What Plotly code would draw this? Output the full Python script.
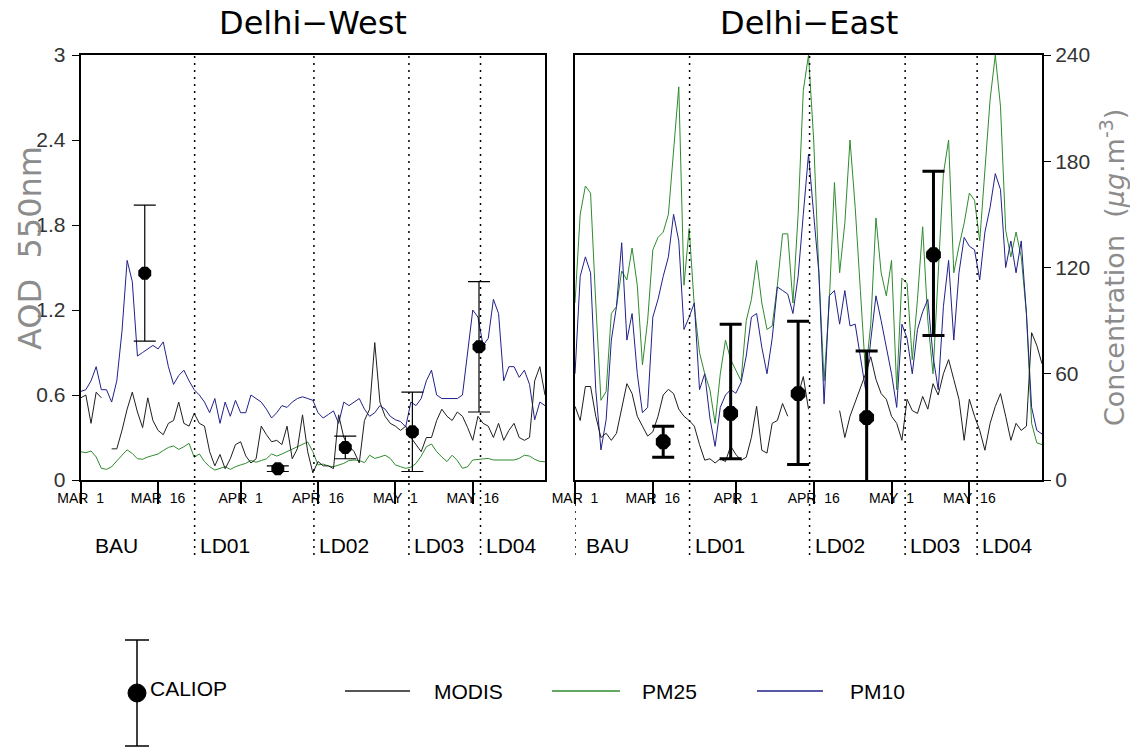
import pandas as pd
import plotly.graph_objects as go

W, H = 1130, 748

# ---------------- data ----------------
dates = pd.date_range("2020-03-01", "2020-05-30", freq="D")

# Delhi-West
west_pm10 = [50, 51, 56, 64, 51, 51, 44, 56, 84, 124,
             112, 70, 72, 74, 76, 74, 78, 64, 54, 59,
             62, 56, 51, 48, 44, 38, 46, 32, 44, 36,
             45, 38, 38, 48, 46, 44, 40, 35, 38, 42,
             41, 44, 46, 47, 46, 45, 38, 35, 37,
             39, 32, 44, 42, 44, 46, 40, 36, 38, 42,
             40, 36, 34, 33, 30, 44, 42, 46, 56, 62,
             48, 46, 46, 46, 46, 48, 72, 96, 92, 76,
             80, 102, 94, 56, 64, 64, 58, 62, 54, 34,
             44, 42]
west_pm25 = [16, 15.4, 16.4, 13, 6.6, 6, 7.5, 11, 14, 17,
             15, 12, 11.7, 13, 14, 14.7, 16.6, 18.4, 19.2, 17.3,
             18.8, 20.7, 12.8, 14.7, 10.4, 7.5, 5.6, 6.6, 7.5, 6,
             7.5, 8.5, 9.4, 11, 10, 11, 12, 14.7, 13.5, 14.7,
             16, 17.3, 18.8, 20.3, 21.5, 16, 8.5, 9, 7.9, 7.5,
             8.5, 9.4, 11, 11.3, 11, 9.8, 14, 12.2, 13, 14,
             12.2, 8.5, 7.5, 6.6, 7.2, 9.4, 13.5, 18.8, 20.3, 16,
             13, 10.4, 14, 11, 6.6, 7.5, 11.3, 11.7, 12.2, 12.2,
             11.3, 11.3, 11.7, 11.7, 11.3, 12.2, 14, 13.5, 11.7, 10.5,
             10.3]
west_modis = [0.58, 0.6, 0.4, 0.62, 0.58, None, 0.22, 0.22, 0.35, 0.5,
              0.62, 0.48, 0.37, 0.58, 0.42, 0.35, 0.32, 0.4, 0.42, 0.55,
              0.4, 0.38, 0.47, 0.4, 0.38, 0.2, 0.1, 0.18, 0.08, 0.15,
              0.25, 0.27, 0.17, 0.12, 0.15, 0.38, 0.32, 0.27, 0.28, 0.25,
              0.38, 0.15, 0.22, 0.46, 0.2, 0.05, 0.13, 0.1, 0.1,
              0.08, 0.46, 0.3, 0.24, 0.2, 0.12, 0.42, 0.5, 0.97, 0.55,
              0.45, 0.4, 0.38, 0.35, 0.38, 0.3, 0.25, 0.2, 0.3, 0.3,
              0.42, 0.5, 0.45, 0.42, 0.48, 0.45, 0.37, 0.28, 0.45, 0.4,
              0.38, 0.3, 0.4, 0.28, 0.35, 0.4, 0.3, 0.28, 0.3, 0.7,
              0.8, 0.6]
west_caliop_dates = ["2020-03-13 10:00", "2020-04-08 05:00", "2020-04-21 07:00",
                     "2020-05-04 07:00", "2020-05-17 05:00"]
west_caliop = [1.46, 0.08, 0.23, 0.34, 0.94]
west_caliop_err_up = [0.48, 0.02, 0.08, 0.28, 0.46]
west_caliop_err_dn = [0.48, 0.02, 0.08, 0.28, 0.46]

# Delhi-East
east_pm25 = [100, 150, 166, 162, 100, 45, 50, 94, 98, 118,
             113, 131, 110, 65, 90, 130, 137, 140, 150, 184,
             222, 110, 142, 98, 72, 60, 51, 32, 60, 79,
             68, 62, 56, 90, 102, 124, 100, 85, 87, 110,
             139, 139, 100, 150, 220, 240, 192, 117, 56, 100,
             168, 117, 145, 192, 154, 107, 60, 88, 148,
             117, 104, 124, 51, 114, 111, 68, 102, 143, 90,
             60, 120, 173, 192, 117, 132, 145, 162, 158, 135,
             173, 215, 240, 211, 141, 126, 140, 126, 94, 32,
             21, 20]
east_pm10 = [60, 115, 126, 117, 51, 17, 34, 79, 98, 134,
             79, 94, 60, 38, 41, 92, 102, 115, 126, 150,
             135, 85, 92, 100, 51, 60, 35, 19, 41, 48,
             51, 49, 55, 70, 92, 94, 75, 60, 80, 109,
             107, 105, 94, 115, 150, 184, 150, 117, 43, 104,
             107, 88, 107, 87, 88, 70, 51, 79, 104,
             90, 75, 60, 41, 88, 80, 60, 85, 95, 102,
             70, 51, 98, 124, 79, 117, 137, 132, 130, 113,
             140, 154, 173, 164, 120, 135, 117, 135, 94, 41,
             28, 26]
east_modis = [0.52, 0.42, 0.66, 0.66, 0.45, 0.3, 0.33, 0.28, 0.33, 0.5,
              0.68, 0.61, 0.45, 0.38, 0.31, 0.34, 0.45, 0.6, 0.64, 0.61,
              0.5, 0.45, 0.42, 0.38, 0.25, 0.14, 0.15, 0.12, 0.15, 0.13,
              0.24, 0.18, 0.14, 0.16, 0.3, 0.52, 0.21, 0.19, 0.4, 0.42,
              0.54, 0.45, None, 0.6, 0.73, 0.5, None, None, None, None,
              None, 0.49, 0.3, 0.45, 0.55, 0.64, 0.75, 0.87, 0.71,
              0.61, 0.57, 0.45, 0.4, 0.28, 0.57, 0.49, 0.47, 0.59, 0.5,
              0.68, 0.6, 0.75, 0.85, 0.71, 0.57, 0.28, 0.57, 0.45, 0.35,
              0.21, 0.4, 0.52, 0.61, 0.45, 0.28, 0.4, 0.35, 0.38, 1.04,
              0.95, 0.82]
east_caliop_dates = ["2020-03-18 00:00", "2020-03-31 00:00", "2020-04-13 00:00",
                     "2020-04-26 05:00", "2020-05-09 02:00"]
east_caliop = [0.27, 0.47, 0.61, 0.44, 1.59]
east_caliop_err_up = [0.11, 0.63, 0.51, 0.47, 0.59]
east_caliop_err_dn = [0.11, 0.32, 0.50, 0.47, 0.57]

# axes / labels
tick_dates = ["2020-03-01", "2020-03-16", "2020-04-01", "2020-04-16", "2020-05-01", "2020-05-16"]
tick_text = ["MAR\u00a0\u00a01", "MAR\u00a0\u00a016", "APR\u00a0\u00a01",
             "APR\u00a0\u00a016", "MAY\u00a0\u00a01", "MAY\u00a0\u00a016"]
aod_ticks = [0, 0.6, 1.2, 1.8, 2.4, 3]
aod_labels = ["0", "0.6", "1.2", "1.8", "2.4", "3"]
conc_ticks = [0, 60, 120, 180, 240]
phase_dates = ["2020-03-23 02:00", "2020-04-15 05:00", "2020-05-03 15:00", "2020-05-17 12:00"]
phase_names = ["LD01", "LD02", "LD03", "LD04"]

# ---------------- styles ----------------
C_MODIS = "#1e1e1e"
C_PM25 = "#2e8b2e"
C_PM10 = "#20208a"
SANS = "Liberation Sans, Arial"


def px(x):
    return x / W


def py(y):
    return (H - y) / H


XL = (80.7, 545.0)
XR = (575.0, 1042.0)
YB, YT = 480.0, 55.0
ydom = [py(YB), py(YT)]

fig = go.Figure()

# ---- West panel: PM on hidden base axis y, AOD on overlay y2
fig.add_trace(go.Scatter(x=dates, y=west_pm25, mode="lines", line=dict(color=C_PM25, width=1),
                         xaxis="x", yaxis="y", showlegend=False))
fig.add_trace(go.Scatter(x=dates, y=west_pm10, mode="lines", line=dict(color=C_PM10, width=1),
                         xaxis="x", yaxis="y", showlegend=False))
fig.add_trace(go.Scatter(x=dates, y=west_modis, mode="lines", line=dict(color=C_MODIS, width=1),
                         xaxis="x", yaxis="y2", showlegend=False))
fig.add_trace(go.Scatter(x=west_caliop_dates, y=west_caliop, mode="markers",
                         marker=dict(color="black", size=14, symbol="octagon"),
                         error_y=dict(type="data", symmetric=False, array=west_caliop_err_up,
                                      arrayminus=west_caliop_err_dn, color="black",
                                      thickness=1.2, width=11),
                         xaxis="x", yaxis="y2", showlegend=False))

# ---- East panel: PM on base axis y3 (right), AOD on hidden overlay y4
fig.add_trace(go.Scatter(x=dates, y=east_pm25, mode="lines", line=dict(color=C_PM25, width=1),
                         xaxis="x2", yaxis="y3", showlegend=False))
fig.add_trace(go.Scatter(x=dates, y=east_pm10, mode="lines", line=dict(color=C_PM10, width=1),
                         xaxis="x2", yaxis="y3", showlegend=False))
fig.add_trace(go.Scatter(x=dates, y=east_modis, mode="lines", line=dict(color=C_MODIS, width=1),
                         xaxis="x2", yaxis="y4", showlegend=False))
fig.add_trace(go.Scatter(x=east_caliop_dates, y=east_caliop, mode="markers",
                         marker=dict(color="black", size=16, symbol="octagon"),
                         error_y=dict(type="data", symmetric=False, array=east_caliop_err_up,
                                      arrayminus=east_caliop_err_dn, color="black",
                                      thickness=3, width=11),
                         xaxis="x2", yaxis="y4", showlegend=False))

xcommon = dict(type="date", range=["2020-03-01", "2020-05-30"], tickvals=tick_dates,
               ticktext=tick_text, ticks="outside", ticklen=22, tickwidth=1.5, tickcolor="black",
               showline=True, linecolor="black", linewidth=2, mirror=True, showgrid=False,
               zeroline=False, tickfont=dict(family=SANS, size=14, color="black"),
               ticklabelstandoff=-18, fixedrange=True, automargin=False)

fig.update_layout(
    template="none",
    width=W, height=H, margin=dict(l=0, r=0, t=0, b=0, pad=0, autoexpand=False),
    paper_bgcolor="white", plot_bgcolor="white", showlegend=False,
    xaxis=dict(domain=[px(XL[0]), px(XL[1])], anchor="y", **xcommon),
    xaxis2=dict(domain=[px(XR[0]), px(XR[1])], anchor="y3", **xcommon),
    yaxis=dict(domain=ydom, anchor="x", range=[0, 240], visible=False, fixedrange=True,
               automargin=False),
    yaxis2=dict(overlaying="y", anchor="x", side="left", range=[0, 3], tickvals=aod_ticks,
                ticktext=aod_labels, ticks="outside", ticklen=7, tickcolor="black",
                showline=True, linecolor="black", linewidth=2, mirror=True, showgrid=False,
                zeroline=False, tickfont=dict(family=SANS, size=21, color="#333333"),
                ticklabelstandoff=2, fixedrange=True, automargin=False),
    yaxis3=dict(domain=ydom, anchor="x2", side="right", range=[0, 240], tickvals=conc_ticks,
                ticks="outside", ticklen=7, tickcolor="black", showline=True, linecolor="black",
                linewidth=2, mirror=True, showgrid=False, zeroline=False,
                tickfont=dict(family=SANS, size=21, color="#333333"), fixedrange=True,
                automargin=False),
    yaxis4=dict(overlaying="y3", anchor="x2", range=[0, 3], visible=False, fixedrange=True,
                automargin=False),
)

shapes = []
annotations = []
y_low = py(555)
# lockdown phase lines and labels
for xa in ("x", "x2"):
    for d, name in zip(phase_dates, phase_names):
        shapes.append(dict(type="line", xref=xa, yref="paper", x0=d, x1=d, y0=y_low, y1=ydom[1],
                           line=dict(color="black", width=1.5, dash="2px,5px")))
        annotations.append(dict(xref=xa, yref="paper", x=d, y=py(545), text=name, showarrow=False,
                                xanchor="left", yanchor="middle", xshift=3,
                                font=dict(family=SANS, size=21, color="black")))
annotations.append(dict(xref="x", yref="paper", x="2020-03-01", y=py(545), text="BAU",
                        showarrow=False, xanchor="left", yanchor="middle", xshift=12,
                        font=dict(family=SANS, size=21, color="black")))
annotations.append(dict(xref="x2", yref="paper", x="2020-03-01", y=py(545), text="BAU",
                        showarrow=False, xanchor="left", yanchor="middle", xshift=9,
                        font=dict(family=SANS, size=21, color="black")))
shapes.append(dict(type="line", xref="x2", yref="paper", x0="2020-03-01", x1="2020-03-01",
                   y0=y_low, y1=ydom[0], line=dict(color="black", width=1.5, dash="2px,5px")))

# titles
annotations.append(dict(xref="paper", yref="paper", x=px((XL[0] + XL[1]) / 2), y=py(23),
                        text="Delhi\u2212West", showarrow=False, xanchor="center", yanchor="middle",
                        font=dict(family="DejaVu Sans", size=32, color="black")))
annotations.append(dict(xref="paper", yref="paper", x=px((XR[0] + XR[1]) / 2), y=py(23),
                        text="Delhi\u2212East", showarrow=False, xanchor="center", yanchor="middle",
                        font=dict(family="DejaVu Sans", size=32, color="black")))
# axis titles
annotations.append(dict(xref="paper", yref="paper", x=px(30), y=py(248),
                        text="AOD\u00a0\u00a0550nm", showarrow=False, textangle=-90,
                        xanchor="center", yanchor="middle",
                        font=dict(family="DejaVu Sans", size=32, color="#8c8c8c")))
annotations.append(dict(xref="paper", yref="paper", x=px(1112), y=py(268),
                        text="Concentration\u00a0\u00a0(<i>\u03bcg</i>.m<sup>-3</sup>)",
                        showarrow=False, textangle=-90, xanchor="center", yanchor="middle",
                        font=dict(family="DejaVu Sans", size=27, color="#8c8c8c")))

# legend (drawn in paper space)
shapes.append(dict(type="line", xref="paper", yref="paper", x0=px(137), x1=px(137),
                   y0=py(640), y1=py(746), line=dict(color="black", width=1.5)))
for yy in (640, 746):
    shapes.append(dict(type="line", xref="paper", yref="paper", x0=px(125), x1=px(149),
                       y0=py(yy), y1=py(yy), line=dict(color="black", width=1.5)))
shapes.append(dict(type="circle", xref="paper", yref="paper", x0=px(128), x1=px(146),
                   y0=py(702), y1=py(684), fillcolor="black", line=dict(color="black", width=1)))
annotations.append(dict(xref="paper", yref="paper", x=px(148), y=py(688), text="CALIOP",
                        showarrow=False, xanchor="left", yanchor="middle",
                        font=dict(family=SANS, size=21, color="black")))
for (x0, x1, tx, col, name) in ((345, 410, 432, C_MODIS, "MODIS"),
                               (552, 620, 640, C_PM25, "PM25"),
                               (757, 823, 848, C_PM10, "PM10")):
    shapes.append(dict(type="line", xref="paper", yref="paper", x0=px(x0), x1=px(x1),
                       y0=py(691), y1=py(691), line=dict(color=col, width=1.5)))
    annotations.append(dict(xref="paper", yref="paper", x=px(tx), y=py(691), text=name,
                            showarrow=False, xanchor="left", yanchor="middle",
                            font=dict(family=SANS, size=21, color="black")))

fig.update_layout(shapes=shapes, annotations=annotations)
fig.write_html("out.html", config={"displayModeBar": False},
               post_script="document.body.style.margin='0';document.body.style.overflow='hidden';")
